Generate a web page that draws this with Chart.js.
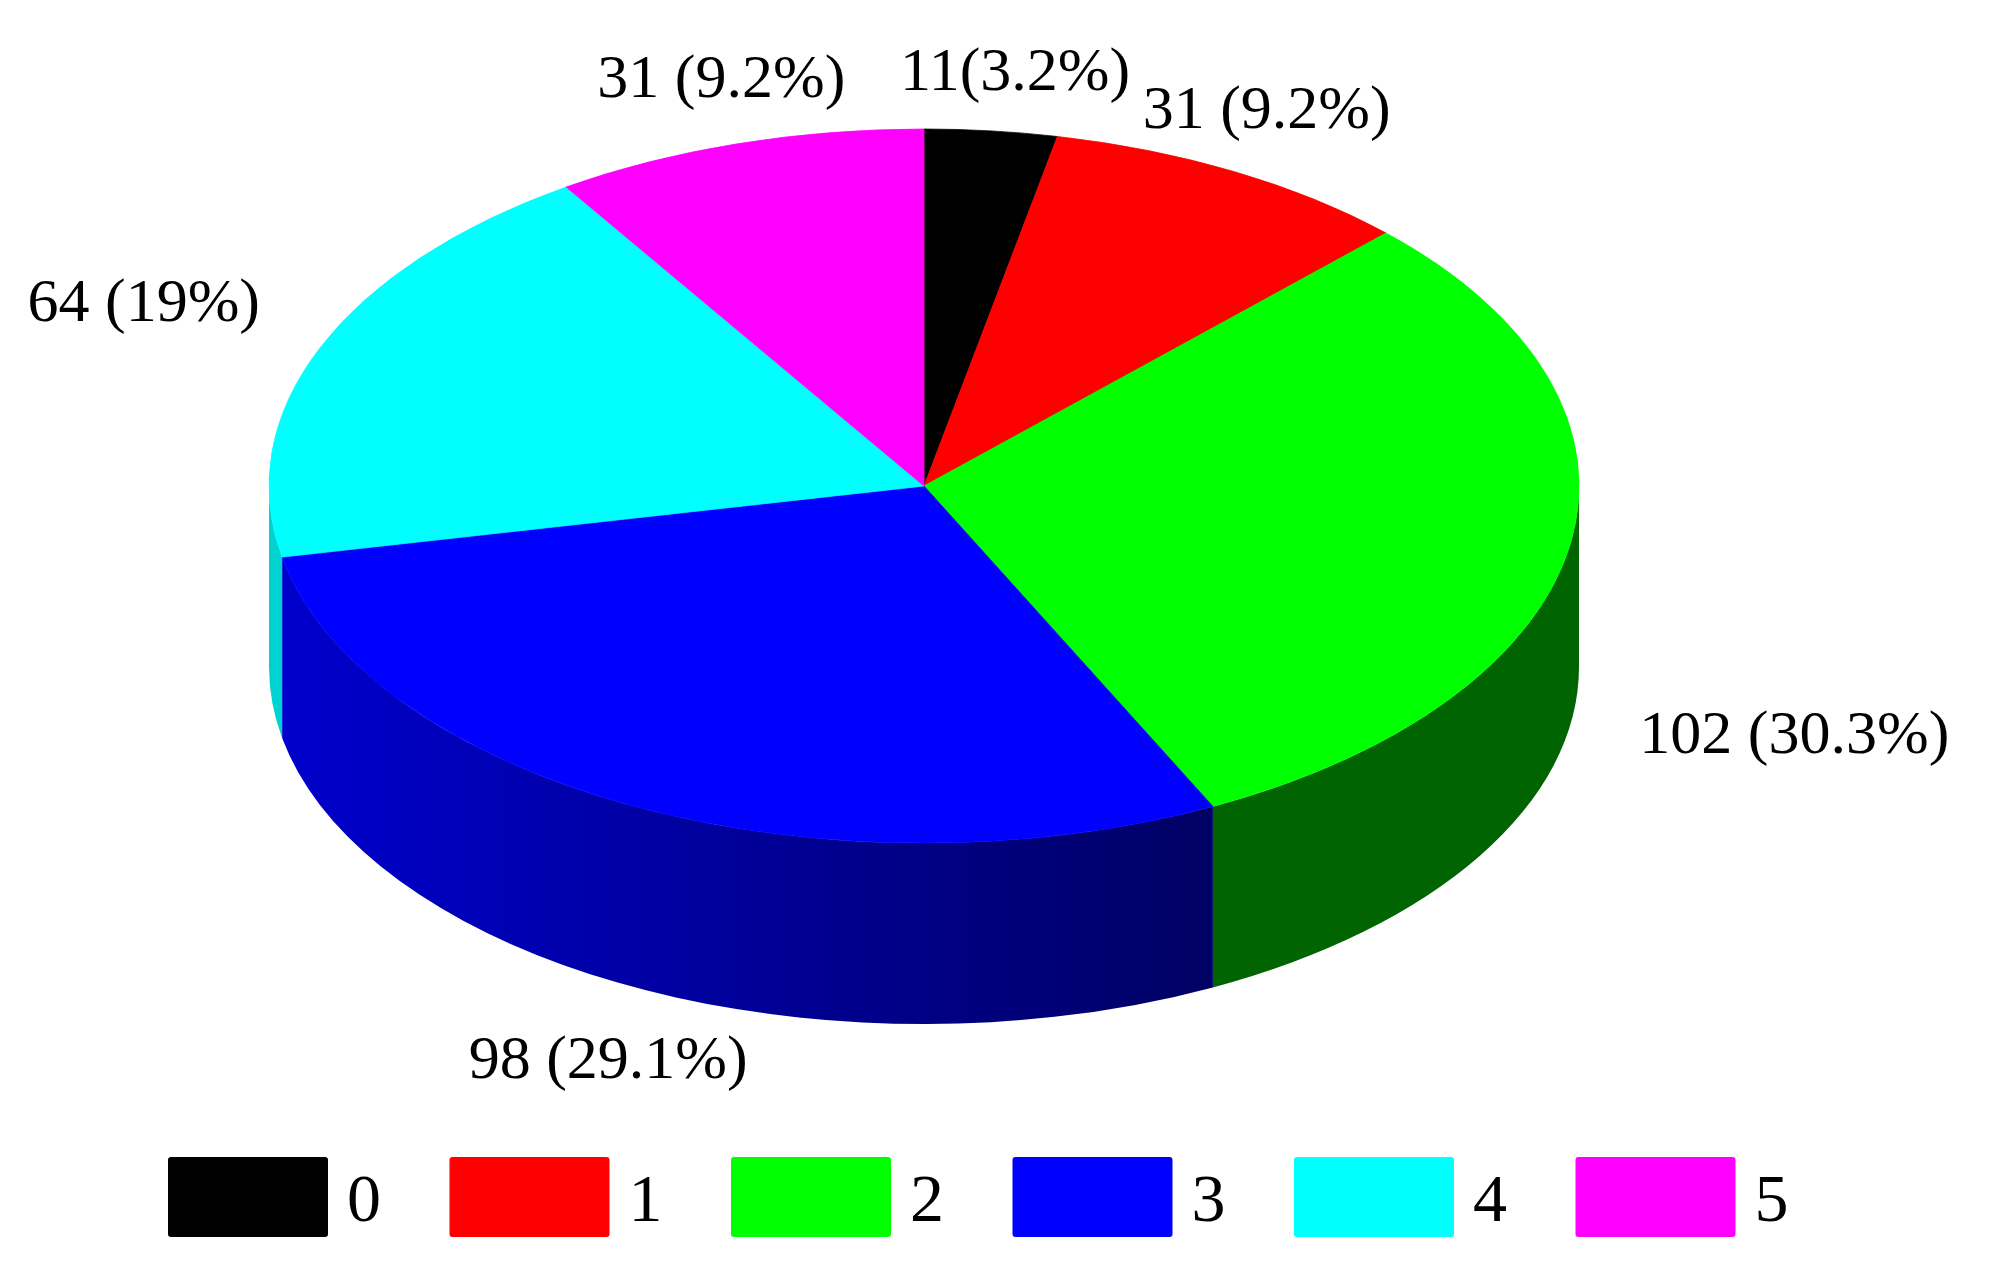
<!DOCTYPE html>
<html>
<head>
<meta charset="utf-8">
<style>
  html, body { margin: 0; background: #fff; }
  canvas { display: block; }
</style>
<script src="https://cdn.jsdelivr.net/npm/chart.js@4/dist/chart.umd.min.js"></script>
</head>
<body>
<canvas id="pie" width="2004" height="1261"></canvas>
<script>
const categories = ["0", "1", "2", "3", "4", "5"]
const counts = [11, 31, 102, 98, 64, 31]
const sliceLabels = ["11(3.2%)", "31 (9.2%)", "102 (30.3%)", "98 (29.1%)", "64 (19%)", "31 (9.2%)"]
const sliceColors = ["#000000", "#ff0000", "#00ff00", "#0000ff", "#00ffff", "#ff00ff"]

// side wall shades, left to right across the visible part of each slice
const wallShades = [["#000000"], ["#a00000"], ["#006400"], ["#0000cd", "#000064"], ["#00d2d2"], ["#a000a0"]]

// where each label sits relative to the rim midpoint of its slice
const labelShifts = [[24, -41], [32, -44], [224, 209], [-27, 272], [-176, -27], [-16, -47]]

const pieCenter = { x: 924, y: 486 }
const pieRadius = 655
const squash = 357 / 655
const wallDepth = 181

const legendBox = { width: 160, height: 80, gap: 19, pad: 83.5 }
const legendFont = "68px 'Liberation Serif'"
const labelFont = "62px 'Liberation Serif'"

const tiltedPie = {
  id: "tiltedPie",
  afterLayout(chart) {
    const area = chart.chartArea
    const half = area.height / 2
    area.left = pieCenter.x - half
    area.right = pieCenter.x + half
    area.top = pieCenter.y - half
    area.bottom = pieCenter.y + half

    chart.legend.left = 84.5
    chart.legend.top = 1073.5
  },
  beforeDatasetsDraw(chart) {
    const ctx = chart.ctx
    const arcs = chart.getDatasetMeta(0).data

    arcs.forEach((arc, i) => {
      const start = Math.max(arc.startAngle, 0)
      const end = Math.min(arc.endAngle, Math.PI)
      if (end <= start) return

      const rx = arc.outerRadius
      const ry = rx * squash
      const shades = wallShades[i]
      let fill = shades[0]
      if (shades.length > 1) {
        fill = ctx.createLinearGradient(arc.x + rx * Math.cos(start), 0, arc.x + rx * Math.cos(end), 0)
        fill.addColorStop(0, shades[1])
        fill.addColorStop(1, shades[0])
      }

      ctx.beginPath()
      ctx.ellipse(arc.x, arc.y, rx, ry, 0, start, end)
      ctx.ellipse(arc.x, arc.y + wallDepth, rx, ry, 0, end, start, true)
      ctx.closePath()
      ctx.fillStyle = fill
      ctx.fill()
    })

    ctx.save()
    ctx.translate(pieCenter.x, pieCenter.y)
    ctx.scale(1, squash)
    ctx.translate(-pieCenter.x, -pieCenter.y)
  },
  afterDatasetsDraw(chart) {
    const ctx = chart.ctx
    ctx.restore()

    ctx.fillStyle = "#000"
    ctx.textBaseline = "alphabetic"

    // slice labels
    ctx.font = labelFont
    ctx.textAlign = "center"
    chart.getDatasetMeta(0).data.forEach((arc, i) => {
      const mid = (arc.startAngle + arc.endAngle) / 2
      const rimX = arc.x + arc.outerRadius * Math.cos(mid)
      const rimY = arc.y + arc.outerRadius * squash * Math.sin(mid)
      ctx.fillText(sliceLabels[i], rimX + labelShifts[i][0], rimY + labelShifts[i][1])
    })

    // legend text: the gap to the box is narrower than Chart.js would leave at this size
    ctx.font = legendFont
    ctx.textAlign = "left"
    let x = chart.legend.left + legendBox.pad
    chart.legend.legendHitBoxes.forEach((hit, i) => {
      ctx.fillText(categories[i], x + legendBox.width + legendBox.gap, 1221)
      x += hit.width + legendBox.pad
    })
  },
}

new Chart(document.getElementById("pie"), {
  type: "pie",
  data: {
    labels: categories,
    datasets: [
      {
        data: counts,
        backgroundColor: sliceColors,
        borderColor: sliceColors,
        borderWidth: 1,
        clip: false,
      },
    ],
  },
  options: {
    responsive: false,
    animation: false,
    radius: pieRadius,
    plugins: {
      tooltip: { enabled: false },
      legend: {
        position: "bottom",
        align: "start",
        labels: {
          boxWidth: legendBox.width,
          boxHeight: legendBox.height,
          padding: legendBox.pad,
          color: "rgba(0,0,0,0)",
          font: { family: "Liberation Serif", size: legendBox.gap * 2 },
          generateLabels: () => categories.map((text, i) => ({
            text,
            index: i,
            fillStyle: sliceColors[i],
            strokeStyle: sliceColors[i],
            lineWidth: 0,
            borderRadius: 3,
            fontColor: "rgba(0,0,0,0)",
          })),
        },
      },
    },
  },
  plugins: [tiltedPie],
})
</script>
</body>
</html>
